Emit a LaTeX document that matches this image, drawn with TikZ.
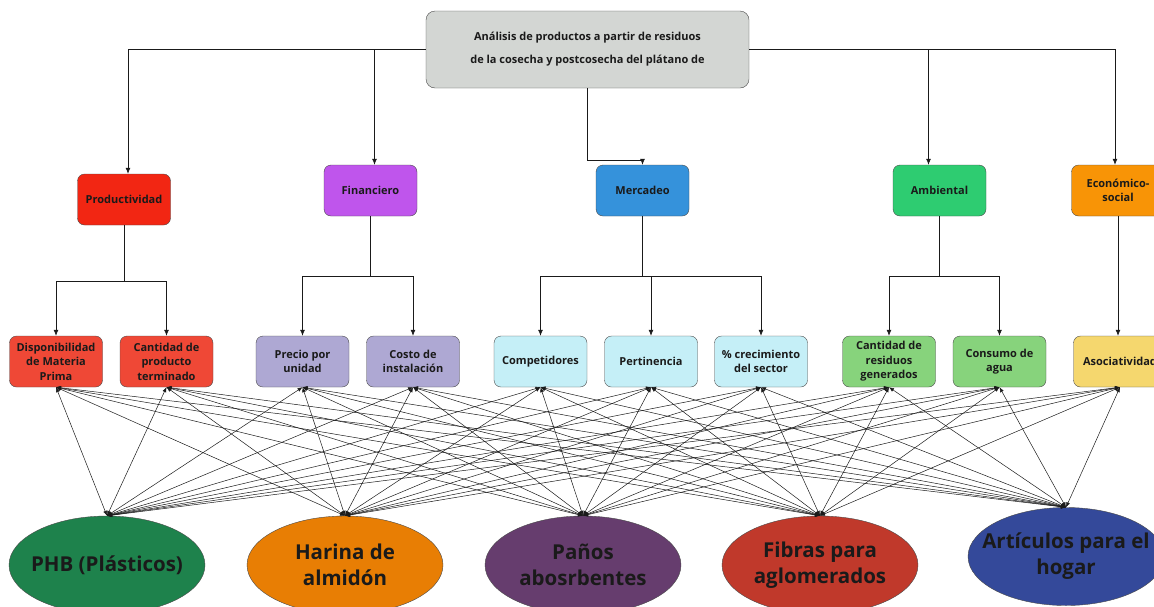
\documentclass[tikz,border=0pt]{standalone}
\usepackage{fontspec}
\setmainfont{Open Sans}
\usetikzlibrary{arrows.meta,shapes.geometric}
\definecolor{edge}{HTML}{4A4A4A}
\definecolor{ink}{HTML}{1A1A1A}
\definecolor{rootbg}{HTML}{D3D6D3}
\definecolor{prodc}{HTML}{F22613}
\definecolor{finc}{HTML}{BF55EC}
\definecolor{merc}{HTML}{3592DB}
\definecolor{ambc}{HTML}{2ECC71}
\definecolor{ecoc}{HTML}{F89406}
\definecolor{prodl}{HTML}{EF4836}
\definecolor{finl}{HTML}{AEA8D3}
\definecolor{merl}{HTML}{C5EFF7}
\definecolor{ambl}{HTML}{87D37C}
\definecolor{ecol}{HTML}{F5D76E}
\definecolor{phbc}{HTML}{1E824C}
\definecolor{harc}{HTML}{E87E04}
\definecolor{panc}{HTML}{663D6E}
\definecolor{fibc}{HTML}{C0392B}
\definecolor{artc}{HTML}{34499A}
\tikzset{
  rootbox/.style={draw=edge, fill=rootbg, rounded corners=9pt, minimum width=323pt, minimum height=77pt,
    align=center, text=ink, font=\bfseries\fontsize{11}{23}\selectfont},
  area/.style={draw=edge, rounded corners=7pt, minimum width=93pt, minimum height=51pt,
    align=center, text=ink, font=\bfseries\fontsize{11}{14.5}\selectfont, inner sep=1pt},
  crit/.style={area},
  prodn/.style={ellipse, draw=edge, minimum width=196pt, minimum height=98pt, inner xsep=-16pt, inner ysep=0pt,
    align=center, text=ink, font=\bfseries\fontsize{20.5}{26}\selectfont},
  arr/.style={draw=ink, line width=0.7pt, -{Latex[length=6pt,width=5pt]}},
  link/.style={draw=ink, line width=0.5pt, {Latex[length=5pt,width=4pt]}-{Latex[length=5pt,width=4pt]}},
}
\begin{document}
\begin{tikzpicture}[x=1pt,y=-1pt]
  \clip (0,0) rectangle (1154,606);

  % root
  \node[rootbox] (root) at (587.5,49.5) {Análisis de productos a partir de residuos\\de la cosecha y postcosecha del plátano de};

  % areas
  \node[area, fill=prodc] (prod) at (124,199.5) {Productividad};
  \node[area, fill=finc] (fin) at (370.5,190.5) {Financiero};
  \node[area, fill=merc] (mer) at (642.5,190.5) {Mercadeo};
  \node[area, fill=ambc] (amb) at (939.5,190.5) {Ambiental};
  \node[area, fill=ecoc] (eco) at (1118,190.5) {Económico-\\social};

  % criteria
  \node[crit, fill=prodl] (disp) at (56,361.5) {Disponibilidad\\de Materia\\Prima};
  \node[crit, fill=prodl] (cant) at (166.5,361.5) {Cantidad de\\producto\\terminado};
  \node[crit, fill=finl] (prec) at (302.5,361.5) {Precio por\\unidad};
  \node[crit, fill=finl] (cost) at (413,361.5) {Costo de\\instalación};
  \node[crit, fill=merl] (comp) at (540.5,361.5) {Competidores};
  \node[crit, fill=merl] (pert) at (651,361.5) {Pertinencia};
  \node[crit, fill=merl] (crec) at (761,361.5) {\% crecimiento\\del sector};
  \node[crit, fill=ambl] (resi) at (889,361.5) {Cantidad de\\residuos\\generados};
  \node[crit, fill=ambl] (agua) at (999.5,361.5) {Consumo de\\agua};
  \node[crit, fill=ecol] (asoc) at (1120,361.5) {Asociatividad};

  % products
  \node[prodn, fill=phbc] (phb) at (107,565) {PHB (Plásticos)};
  \node[prodn, fill=harc] (har) at (345,565) {Harina de\\almidón};
  \node[prodn, fill=panc] (pan) at (583,565) {Paños\\abosrbentes};
  \node[prodn, fill=fibc] (fib) at (820,565) {Fibras para\\aglomerados};
  \node[prodn, fill=artc] (art) at (1066,556.5) {Artículos para el\\hogar};

  % root to areas
  \draw[arr] (root.west) -| ([xshift=4pt]prod.north);
  \draw[arr] ([xshift=4pt]root.west -| fin.north) -- ([xshift=4pt]fin.north);
  \draw[arr] (root.east) -| ([xshift=-3pt]eco.north);
  \draw[arr] ([xshift=-11pt]root.east -| amb.north) -- ([xshift=-11pt]amb.north);
  \draw[arr] (root.south) -- ++(0,72) -| (mer.north);

  % areas to criteria
  \foreach \c in {disp,cant}
    \draw[arr] (prod.south) -- ++(0,56) -| (\c.north);
  \foreach \c in {prec,cost}
    \draw[arr] (fin.south) -- ++(0,60) -| (\c.north);
  \foreach \c in {comp,pert,crec}
    \draw[arr] (mer.south) -- ++(0,60) -| (\c.north);
  \foreach \c in {resi,agua}
    \draw[arr] (amb.south) -- ++(0,60) -| (\c.north);
  \draw[arr] (eco.south) -- (eco.south |- asoc.north);

  % criteria to products
  \foreach \c in {disp,cant,prec,cost,comp,pert,crec,resi,agua,asoc}{
    \foreach \p in {phb,har,pan,fib,art}{
      \draw[link] (\c.south) -- (\p.north);
    }
  }
\end{tikzpicture}
\end{document}
